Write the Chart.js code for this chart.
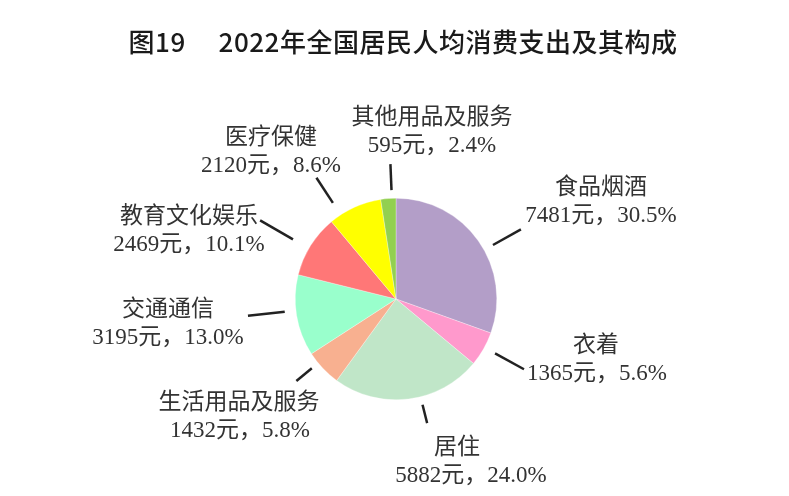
<!DOCTYPE html>
<html>
<head>
<meta charset="utf-8">
<script src="https://cdn.jsdelivr.net/npm/chart.js@4.4.1/dist/chart.umd.min.js"></script>
<style>
	html, body { margin: 0; background: #fff; }
	canvas { display: block; }
</style>
</head>
<body>
<canvas id="pieChart" width="789" height="496"></canvas>
<script>
// Chart data
const chartTitle = "图19\u3000 2022年全国居民人均消费支出及其构成";
const categories = ["食品烟酒", "衣着", "居住", "生活用品及服务", "交通通信", "教育文化娱乐", "医疗保健", "其他用品及服务"];
const amounts = [7481, 1365, 5882, 1432, 3195, 2469, 2120, 595];
const shares = ["30.5", "5.6", "24.0", "5.8", "13.0", "10.1", "8.6", "2.4"];
const sliceColors = ["#b39ec8", "#ff99cc", "#c0e6c8", "#f8b090", "#99ffcc", "#ff7777", "#ffff00", "#92d050"];

// Leader line / label placement (angle nudge in degrees, line radii, text offset from centre)
const labelLayout = [
	{ nudge: 6, rIn: 111, rOut: 143, dx: 205, dy: -111, vdx: 205 },
	{ nudge: -1, rIn: 113, rOut: 146, dx: 200, dy: 47, vdx: 201 },
	{ nudge: -7, rIn: 109, rOut: 128, dx: 61, dy: 149, vdx: 75 },
	{ nudge: 4, rIn: 109, rOut: 129, dx: -157, dy: 104, vdx: -156 },
	{ nudge: 3, rIn: 112, rOut: 149, dx: -228, dy: 11, vdx: -228 },
	{ nudge: -2, rIn: 119, rOut: 157, dx: -207, dy: -82, vdx: -207 },
	{ nudge: -9, rIn: 115, rOut: 145, dx: -125, dy: -161, vdx: -125 },
	{ nudge: 2, rIn: 109, rOut: 135, dx: 36, dy: -181, vdx: 36 },
];

const labelFont = '23px "Liberation Serif", "Noto Sans CJK SC", serif';

const outsideLabels = {
	id: "outsideLabels",
	afterDraw(chart) {
		const ctx = chart.ctx;
		const arcs = chart.getDatasetMeta(0).data;
		ctx.save();
		// title
		ctx.fillStyle = "#1a1a1a";
		ctx.font = '500 26px "Noto Sans CJK SC", sans-serif';
		ctx.letterSpacing = "0.5px";
		ctx.textAlign = "center";
		ctx.textBaseline = "middle";
		ctx.fillText(chartTitle, 403, 42);
		ctx.letterSpacing = "0px";

		arcs.forEach((arc, i) => {
			const p = arc.getProps(["x", "y", "startAngle", "endAngle"], true);
			const lay = labelLayout[i];
			const mid = (p.startAngle + p.endAngle) / 2 + lay.nudge * Math.PI / 180;
			const cos = Math.cos(mid), sin = Math.sin(mid);
			ctx.strokeStyle = "#222";
			ctx.lineWidth = 2.5;
			ctx.beginPath();
			ctx.moveTo(p.x + cos * lay.rIn, p.y + sin * lay.rIn);
			ctx.lineTo(p.x + cos * lay.rOut, p.y + sin * lay.rOut);
			ctx.stroke();

			ctx.fillStyle = "#333";
			ctx.font = labelFont;
			ctx.fillText(categories[i], p.x + lay.dx, p.y + lay.dy);
			ctx.fillText(amounts[i] + "元，" + shares[i] + "%", p.x + lay.vdx, p.y + lay.dy + 28);
		});
		ctx.restore();
	}
};

new Chart(document.getElementById("pieChart").getContext("2d"), {
	type: "pie",
	data: {
		labels: categories,
		datasets: [{
			data: amounts,
			backgroundColor: sliceColors,
			borderColor: "rgba(255,255,255,0.6)",
			borderWidth: 0.5
		}]
	},
	options: {
		responsive: false,
		animation: false,
		layout: {
			padding: { left: 295, right: 292, top: 198, bottom: 96 }
		},
		plugins: {
			legend: { display: false },
			title: { display: false },
			tooltip: { enabled: false }
		}
	},
	plugins: [outsideLabels]
});
</script>
</body>
</html>
